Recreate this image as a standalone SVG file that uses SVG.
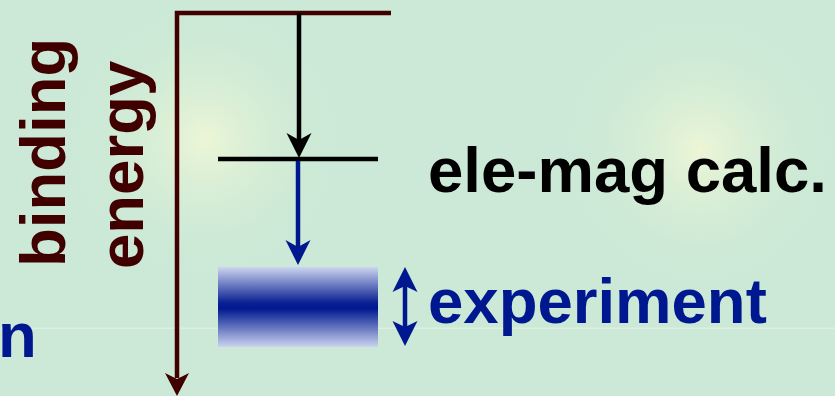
<svg xmlns="http://www.w3.org/2000/svg" width="835" height="396" viewBox="0 0 835 396">
  <defs>
    <radialGradient id="glow" cx="0.5" cy="0.5" r="0.5">
      <stop offset="0" stop-color="#edf6d6" stop-opacity="1"/>
      <stop offset="0.45" stop-color="#dcefd6" stop-opacity="0.6"/>
      <stop offset="1" stop-color="#cbe9d6" stop-opacity="0"/>
    </radialGradient>
    <linearGradient id="band" x1="0" y1="0" x2="0" y2="1">
      <stop offset="0" stop-color="#ccd6f0"/>
      <stop offset="0.45" stop-color="#0a1f92"/>
      <stop offset="0.52" stop-color="#001890"/>
      <stop offset="1" stop-color="#ccd4f0"/>
    </linearGradient>
    <style>
      .t { font-family: "Liberation Sans", Arial, Helvetica, sans-serif; font-weight: bold; font-size: 63.5px; }
      .brown { fill: #400000; }
      .blue { fill: #00188f; }
      .black { fill: #000000; }
      .ln { fill: none; stroke-linecap: butt; stroke-linejoin: miter; }
    </style>
  </defs>

  <g id="background">
    <rect x="0" y="0" width="835" height="396" fill="#cbe9d6"/>
    <ellipse cx="205" cy="140" rx="140" ry="140" fill="url(#glow)"/>
    <ellipse cx="700" cy="150" rx="140" ry="140" fill="url(#glow)"/>
    <rect x="0" y="327.5" width="835" height="1.5" fill="#dcf0e2"/>
  </g>

  <g id="axis">
    <polyline class="ln" points="391,13 177,13 177,378" stroke="#400000" stroke-width="4.5"/>
    <path d="M177,396 L165,373 L177,379 L189,373 Z" fill="#400000"/>
  </g>

  <g id="axis-label">
    <text class="t brown" transform="translate(65,267) rotate(-90)">binding</text>
    <text class="t brown" transform="translate(143,269) rotate(-90)">energy</text>
  </g>

  <g id="level-calc">
    <line x1="218" y1="159" x2="378" y2="159" stroke="#000" stroke-width="4.5"/>
    <text class="t black" x="428" y="192">ele-mag calc.</text>
  </g>

  <g id="level-experiment">
    <rect x="218" y="267" width="160" height="80" fill="url(#band)"/>
    <text class="t blue" x="428" y="323">experiment</text>
  </g>

  <g id="side-label">
    <text class="t blue" x="-2" y="357">n</text>
  </g>

  <g id="connectors">
    <line x1="299" y1="13" x2="299" y2="142" stroke="#000" stroke-width="4.5"/>
    <path d="M299,158 L286.5,133 L299,140 L311.5,133 Z" fill="#000"/>
    <line x1="298" y1="161" x2="298" y2="249" stroke="#00188f" stroke-width="4.5"/>
    <path d="M298,265 L285.5,240 L298,247 L310.5,240 Z" fill="#00188f"/>
    <line x1="405" y1="285" x2="405" y2="328" stroke="#00188f" stroke-width="4.5"/>
    <path d="M405,267 L392.5,292 L405,286 L417.5,292 Z" fill="#00188f"/>
    <path d="M405,346 L392.5,321 L405,327 L417.5,321 Z" fill="#00188f"/>
  </g>
</svg>
